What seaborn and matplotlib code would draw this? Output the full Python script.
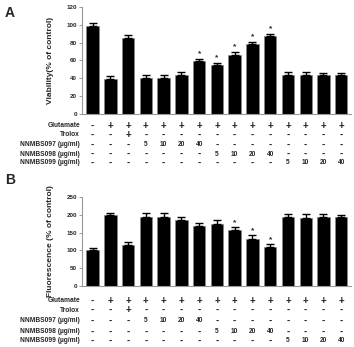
import matplotlib
matplotlib.use("Agg")
import matplotlib.pyplot as plt
import matplotlib.transforms as mtransforms
import seaborn as sns
import numpy as np
import pandas as pd

sns.set_style("white")
plt.rcParams['font.family'] = ['Liberation Sans', 'DejaVu Sans']
plt.rcParams['font.weight'] = 'bold'

groups = [f"G{i}" for i in range(1, 16)]
viability = [99, 39, 85, 40, 40, 44, 59, 55, 66, 78, 87, 44, 44, 44, 44]
viability_err = [2.5, 4, 3.5, 3.5, 4, 3.5, 3, 2.5, 4, 3, 3, 3, 3, 2.5, 2.5]
viability_sig = [False]*6 + [True]*5 + [False]*4
fluor = [100, 200, 115, 195, 195, 185, 168, 175, 157, 132, 110, 195, 192, 195, 193]
fluor_err = [6, 6, 10, 10, 10, 9, 8, 10, 9, 10, 9, 6, 10, 6, 6]
fluor_sig = [False]*8 + [True]*3 + [False]*4

row_labels = ["Glutamate", "Trolox", "NNMBS097 (µg/ml)", "NNMBS098 (µg/ml)", "NNMBS099 (µg/ml)"]
rows = [
    ["-", "+", "+", "+", "+", "+", "+", "+", "+", "+", "+", "+", "+", "+", "+"],
    ["-", "-", "+", "-", "-", "-", "-", "-", "-", "-", "-", "-", "-", "-", "-"],
    ["-", "-", "-", "5", "10", "20", "40", "-", "-", "-", "-", "-", "-", "-", "-"],
    ["-", "-", "-", "-", "-", "-", "-", "5", "10", "20", "40", "-", "-", "-", "-"],
    ["-", "-", "-", "-", "-", "-", "-", "-", "-", "-", "-", "5", "10", "20", "40"],
]

W, H = 354, 347
fig = plt.figure(figsize=(W/100, H/100), dpi=100)

def fy(px):
    return 1 - px / H

axA = fig.add_axes([82/W, fy(114), (351-82)/W, (114-7)/H])
axB = fig.add_axes([82/W, fy(286), (351-82)/W, (286-197)/H])

def panel(ax, vals, errs, sig, ymax, step, ylabel, row_ys):
    df = pd.DataFrame({"g": groups, "v": vals})
    sns.barplot(data=df, x="g", y="v", color="black", width=0.7, ax=ax,
                edgecolor="#888888", linewidth=0.5, errorbar=None, saturation=1)
    x = np.arange(len(vals))
    ax.errorbar(x, vals, yerr=[np.zeros(len(vals)), errs], fmt="none",
                ecolor="black", elinewidth=1.0, capsize=3.0, capthick=1.0)
    for xi, v, e, s in zip(x, vals, errs, sig):
        if s:
            ax.text(xi, v + e + ymax*0.01, "*", ha="center", va="bottom",
                    fontsize=6, fontweight="bold")
    ax.set_xlim(-0.6, len(vals) - 0.45)
    ax.set_ylim(0, ymax)
    ax.set_yticks(np.arange(0, ymax + 1, step))
    ax.tick_params(axis="y", labelsize=4.5, length=2, width=0.6, pad=1.5, left=True, color="#888888")
    for lab in ax.get_yticklabels():
        lab.set_fontweight("bold")
    ax.set_xticks([])
    ax.set_xlabel("")
    ax.set_ylabel(ylabel, fontsize=6, fontweight="bold", labelpad=9)
    for sp in ["top", "right"]:
        ax.spines[sp].set_visible(False)
    for sp in ["left", "bottom"]:
        ax.spines[sp].set_color("#999999")
        ax.spines[sp].set_linewidth(0.8)
    trans = mtransforms.blended_transform_factory(ax.transData, fig.transFigure)
    for r, (lab, yy) in enumerate(zip(row_labels, row_ys)):
        fig.text(80/W, fy(yy), lab, ha="right", va="center", fontsize=4.8, fontweight="bold")
        for xi, sym in enumerate(rows[r]):
            fs = 7 if sym in "+-" else 4.8
            ax.text(xi, fy(yy), sym, transform=trans, ha="center", va="center",
                    fontsize=fs, fontweight="bold", clip_on=False)

panel(axA, viability, viability_err, viability_sig, 120, 20,
      "Viability(% of control)", [126, 135, 144.5, 154, 163])
panel(axB, fluor, fluor_err, fluor_sig, 250, 50,
      "Fluorescence (% of control)", [301, 310, 321, 331.5, 341])

fig.text(5/W, fy(13), "A", fontsize=10, fontweight="bold", va="center", ha="left")
fig.text(5/W, fy(180), "B", fontsize=10, fontweight="bold", va="center", ha="left")

fig.savefig("out.png", dpi=100)
